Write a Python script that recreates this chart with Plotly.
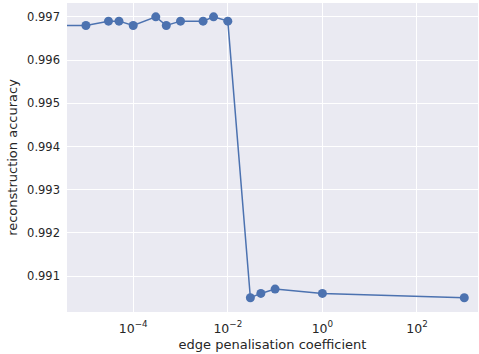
import plotly.graph_objects as go

# data
coef = [1e-6, 1e-5, 3e-5, 5e-5, 1e-4, 3e-4, 5e-4, 1e-3, 3e-3, 5e-3, 1e-2, 3e-2, 5e-2, 1e-1, 1.0, 1000.0]
accuracy = [0.9968, 0.9968, 0.9969, 0.9969, 0.9968, 0.9970, 0.9968, 0.9969, 0.9969, 0.9970, 0.9969,
            0.9905, 0.9906, 0.9907, 0.9906, 0.9905]
marker_shown = [False] + [True] * (len(coef) - 1)

x_tickvals = [1e-4, 1e-2, 1, 100]
x_ticktext = ["10<sup>\u22124</sup>", "10<sup>\u22122</sup>", "10<sup>0</sup>", "10<sup>2</sup>"]
y_tickvals = [0.991, 0.992, 0.993, 0.994, 0.995, 0.996, 0.997]

color = "#4C72B0"
fig = go.Figure()
fig.add_trace(go.Scatter(
    x=coef, y=accuracy, mode="lines+markers",
    line=dict(color=color, width=1.5),
    marker=dict(color=color, size=[9 if m else 0 for m in marker_shown],
                line=dict(width=0), opacity=1),
    cliponaxis=True,
))

fig.update_layout(
    width=479, height=354,
    margin=dict(l=67, r=1, t=3, b=42),
    paper_bgcolor="white", plot_bgcolor="#EAEAF2",
    font=dict(family="DejaVu Sans", size=11.5, color="#262626"),
    showlegend=False,
)
fig.update_xaxes(
    type="log", range=[-5.40, 3.29], automargin=False,
    tickvals=x_tickvals, ticktext=x_ticktext, tickfont=dict(size=12.5),
    gridcolor="white", gridwidth=1, showline=False, zeroline=False,
    ticks="", ticklabelstandoff=7,
    title=dict(text="edge penalisation coefficient", font=dict(size=13), standoff=5),
)
fig.update_yaxes(
    range=[0.99017, 0.99732], automargin=False,
    tickvals=y_tickvals, tickformat=".3f",
    gridcolor="white", gridwidth=1, showline=False, zeroline=False,
    ticks="", ticklabelstandoff=6,
    title=dict(text="reconstruction accuracy", font=dict(size=13), standoff=6),
)

fig.write_html("out.html", config={"displayModeBar": False},
               post_script="document.body.style.margin='0';document.body.style.overflow='hidden';")
